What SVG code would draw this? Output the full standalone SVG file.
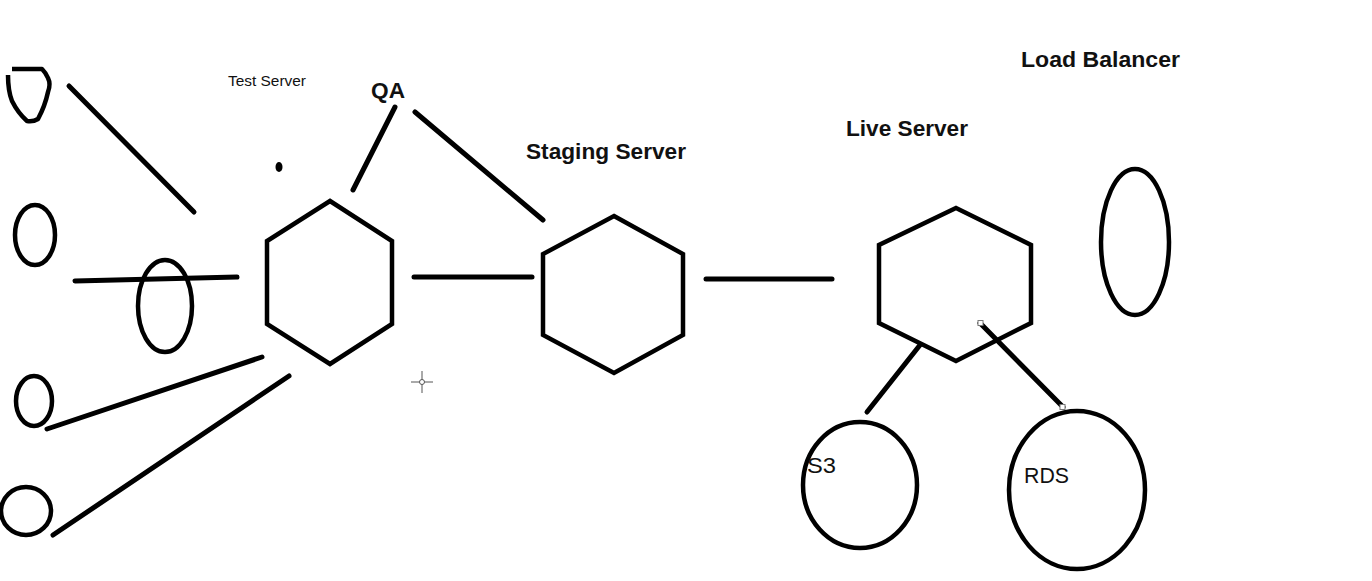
<svg xmlns="http://www.w3.org/2000/svg" width="1372" height="581" viewBox="0 0 1372 581">
<style>
.s{fill:none;stroke:#000;stroke-width:4.5;stroke-linejoin:round}
.c{fill:none;stroke:#000;stroke-width:5;stroke-linecap:round}
.lb{font-family:"Liberation Sans",Arial,sans-serif;font-weight:bold;fill:#111}
.lr{font-family:"Liberation Sans",Arial,sans-serif;fill:#111}
.h{fill:#fff;stroke:#777;stroke-width:1}
</style>
<rect width="1372" height="581" fill="#fff"/>
<g id="client1"><path class="s" d="M12,69 L42,69 Q46,73 48,78 Q51,84 48,92 Q45,106 38,119 Q33,122 27,121 Q18,113 12,101 Q8,91 8,75"/></g>
<g id="client2"><ellipse class="s" cx="35" cy="235" rx="20" ry="30"/></g>
<g id="client3"><ellipse class="s" cx="165" cy="306" rx="27" ry="46"/></g>
<g id="client4"><ellipse class="s" cx="34" cy="401" rx="18" ry="25"/></g>
<g id="client5"><ellipse class="s" cx="26" cy="511" rx="25" ry="24"/></g>
<g id="dot"><ellipse cx="279" cy="167" rx="3.5" ry="5" fill="#000"/></g>
<g id="test-server">
<polygon class="s" style="stroke-linejoin:miter" points="330,201 392,241 392,324 330,364 267,324 267,241"/>
<text class="lr" x="228" y="86" font-size="15" textLength="78" lengthAdjust="spacingAndGlyphs">Test Server</text>
</g>
<g id="qa"><text class="lb" x="371" y="98" font-size="22" textLength="34" lengthAdjust="spacingAndGlyphs">QA</text></g>
<g id="staging-server">
<polygon class="s" style="stroke-linejoin:miter" points="614,216 683,254 683,335 614,373 543,335 543,254"/>
<text class="lb" x="526" y="159" font-size="22" textLength="160" lengthAdjust="spacingAndGlyphs">Staging Server</text>
</g>
<g id="live-server">
<polygon class="s" style="stroke-linejoin:miter" points="956,208 1031,245 1031,323 956,361 879,323 879,245"/>
<text class="lb" x="846" y="136" font-size="22" textLength="122" lengthAdjust="spacingAndGlyphs">Live Server</text>
</g>
<g id="load-balancer">
<ellipse class="s" cx="1135" cy="242" rx="34" ry="73"/>
<text class="lb" x="1021" y="67" font-size="22" textLength="159" lengthAdjust="spacingAndGlyphs">Load Balancer</text>
</g>
<g id="s3">
<ellipse class="s" cx="860" cy="485" rx="57" ry="63"/>
<text class="lr" x="807" y="473" font-size="22" textLength="29" lengthAdjust="spacingAndGlyphs">S3</text>
</g>
<g id="rds">
<ellipse class="s" cx="1077" cy="490" rx="68" ry="79"/>
<text class="lr" x="1024" y="483" font-size="22" textLength="45" lengthAdjust="spacingAndGlyphs">RDS</text>
</g>
<g id="connectors">
<line class="c" x1="69" y1="86" x2="194" y2="212"/>
<line class="c" x1="75" y1="281" x2="237" y2="277"/>
<line class="c" x1="47" y1="429" x2="262" y2="357"/>
<line class="c" x1="53" y1="535" x2="289" y2="376"/>
<line class="c" x1="395" y1="107" x2="353" y2="190"/>
<line class="c" x1="415" y1="112" x2="543" y2="220"/>
<line class="c" x1="414" y1="277" x2="532" y2="277"/>
<line class="c" x1="706" y1="279" x2="832" y2="279"/>
<line class="c" x1="920" y1="345" x2="867" y2="412"/>
<line class="c" x1="980" y1="323" x2="1063" y2="407"/>
<rect class="h" x="978" y="320.5" width="5" height="5"/>
<rect class="h" x="1060" y="404.5" width="5" height="5"/>
</g>
<g id="cursor" stroke="#555" stroke-width="1" fill="none">
<line x1="411" y1="382" x2="433" y2="382"/>
<line x1="422" y1="371" x2="422" y2="393"/>
<circle cx="422" cy="382" r="2.5" fill="#fff"/>
</g>
</svg>
